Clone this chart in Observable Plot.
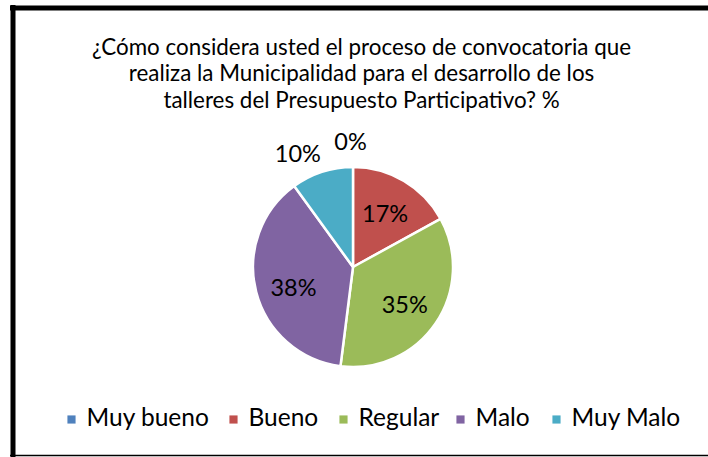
<!DOCTYPE html>
<html>
<head>
<meta charset="utf-8">
<script src="https://cdn.jsdelivr.net/npm/d3@7"></script>
<script src="https://cdn.jsdelivr.net/npm/@observablehq/plot@0.6"></script>
<style>
  html, body { margin: 0; padding: 0; background: #fff; }
  svg { display: block; }
</style>
</head>
<body>
<div id="chart"></div>
<script>
// ---- data ----
const titleLines = [
  "¿Cómo considera usted el proceso de convocatoria que",
  "realiza la Municipalidad para el desarrollo de los",
  "talleres del Presupuesto Participativo? %"
];
const categories = ["Muy bueno", "Bueno", "Regular", "Malo", "Muy Malo"];
const values = [0, 17, 35, 38, 10];
const labels = ["0%", "17%", "35%", "38%", "10%"];
const colors = ["#4F81BD", "#C0504D", "#9BBB59", "#8064A2", "#4BACC6"];

// ---- layout ----
const W = 708, H = 457;
const FONT = "Lato, 'Open Sans', sans-serif";
const cx = 353, cy = 267, R = 100;
const legendSquareX = [67, 229, 339, 456, 552];
const legendY = 418;
// label placement: inside slices at 0.62R, outside small slices with nudges
const labelRadius = [1.24, 0.62, 0.62, 0.62, 1.25];
const labelNudge = [[-3, -1], [0, 0], [0, 3], [0, 6], [-17, 6]];

const data = categories.map((c, i) => ({category: c, value: values[i], label: labels[i], i}));

const pie = d3.pie().sort(null).value(d => d.value).startAngle(0).endAngle(2 * Math.PI);
const arcs = pie(data);

const labelRows = arcs.map((a, k) => {
  const mid = (a.startAngle + a.endAngle) / 2;
  const r = R * labelRadius[k];
  return {
    label: a.data.label,
    px: cx + r * Math.sin(mid) + labelNudge[k][0],
    py: cy - r * Math.cos(mid) + labelNudge[k][1]
  };
});

const titleRows = titleLines.map((t, i) => ({t, i}));
const legendRows = categories.map((c, i) => ({category: c, i}));

function pieMark(index, scales, values, dimensions) {
  const g = d3.create("svg:g").attr("transform", `translate(${scales.x(cx)},${scales.y(cy)})`);
  const arcGen = d3.arc().innerRadius(0).outerRadius(R);
  g.selectAll("path")
    .data(arcs.filter(a => a.data.value > 0))
    .join("path")
    .attr("d", arcGen)
    .attr("fill", a => scales.color(a.data.category))
    .attr("stroke", "#fff")
    .attr("stroke-width", 2.5)
    .attr("stroke-linejoin", "round");
  return g.node();
}

const chart = Plot.plot({
  width: W,
  height: H,
  margin: 0,
  x: {domain: [0, W], range: [0, W], axis: null},
  y: {domain: [0, H], range: [0, H], axis: null},
  color: {domain: categories, range: colors},
  style: {fontFamily: FONT, background: "#fff"},
  marks: [
    // frame: thick top/left, thin bottom
    Plot.ruleY([7.5], {x1: 10, x2: W + 5, stroke: "#000", strokeWidth: 5}),
    Plot.ruleX([12.5], {y1: 5, y2: H, stroke: "#000", strokeWidth: 5}),
    Plot.ruleY([455], {x1: 10, x2: W + 5, stroke: "#000", strokeWidth: 1.5}),
    // title
    Plot.text(titleRows, {
      x: () => 361, y: d => 47 + d.i * 26.5, text: "t",
      fontSize: 22.4, fill: "#000", textAnchor: "middle", lineAnchor: "middle"
    }),
    pieMark,
    // slice labels
    Plot.text(labelRows, {
      x: "px", y: "py", text: "label",
      fontSize: 23.5, fill: "#000", textAnchor: "middle", lineAnchor: "middle"
    }),
    // legend
    Plot.dot(legendRows, {
      x: d => legendSquareX[d.i] + 4, y: () => legendY + 1,
      symbol: "square", r: 4.6, fill: "category", stroke: null
    }),
    Plot.text(legendRows, {
      x: d => legendSquareX[d.i] + 19, y: () => legendY, text: "category",
      fontSize: 24.5, fill: "#000", textAnchor: "start", lineAnchor: "middle"
    })
  ]
});

document.getElementById("chart").appendChild(chart);
</script>
</body>
</html>
